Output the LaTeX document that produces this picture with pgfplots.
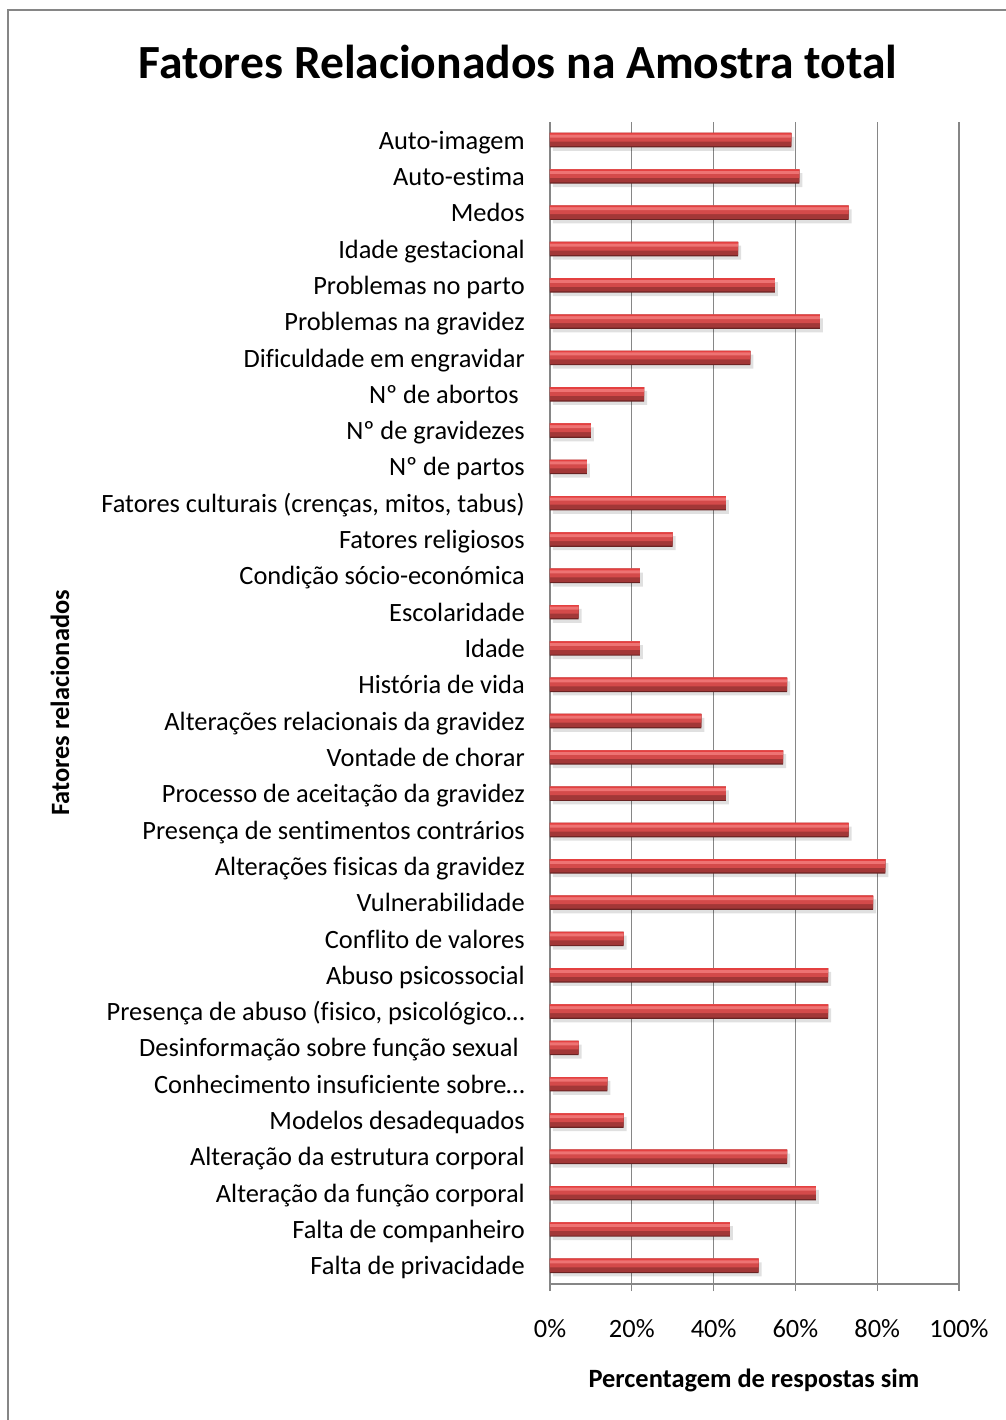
\documentclass[border=0pt]{standalone}
\usepackage{pgfplots}
\pgfplotsset{compat=1.18}
\usepackage{pgfplotstable}
\usepackage{fontspec}
\setmainfont{Carlito}[Ligatures=CommonOff]

\definecolor{framegray}{RGB}{134,134,134}
\definecolor{bardark}{RGB}{105,35,35}
\definecolor{barlow}{RGB}{162,55,55}
\definecolor{barmid}{RGB}{212,74,74}
\definecolor{barhigh}{RGB}{238,115,115}
\definecolor{bartop}{RGB}{228,64,64}

% share of "sim" answers per factor, index 0 = bottom row
\pgfplotstableread{
idx val
0  51
1  44
2  65
3  58
4  18
5  14
6  7
7  68
8  68
9  18
10 79
11 82
12 73
13 43
14 57
15 37
16 58
17 22
18 7
19 22
20 30
21 43
22 9
23 10
24 23
25 49
26 66
27 55
28 46
29 73
30 61
31 59
}\fatores

\begin{document}
\begin{tikzpicture}
\useasboundingbox (0,0) rectangle (503pt,-710pt);
% chart frame
\draw[framegray, line width=1pt] (4pt,-710pt) -- (4pt,-5pt) -- (503pt,-5pt);

\begin{axis}[
  at={(275pt,-642pt)}, anchor=south west,
  scale only axis, width=204.5pt, height=581pt,
  xmin=0, xmax=100, ymin=-0.5, ymax=31.5,
  axis lines*=left,
  axis line style={framegray, line width=0.9pt},
  xtick={0,20,...,100},
  xticklabels={0\%,20\%,40\%,60\%,80\%,100\%},
  xmajorgrids, grid style={framegray, line width=0.7pt},
  tick style={framegray, line width=0.7pt},
  major tick length=3.5pt,
  tick align=outside,
  typeset ticklabels with strut,
  ytick={0,...,31},
  major y tick style={draw=none},
  yticklabels={
    {Falta de privacidade},
    {Falta de companheiro},
    {Alteração da função corporal},
    {Alteração da estrutura corporal},
    {Modelos desadequados},
    {Conhecimento insuficiente sobre…},
    {Desinformação sobre função sexual\kern0.23em},
    {Presença de abuso (fisico, psicológico…},
    {Abuso psicossocial},
    {Conflito de valores},
    {Vulnerabilidade},
    {Alterações fisicas da gravidez},
    {Presença de sentimentos contrários},
    {Processo de aceitação da gravidez},
    {Vontade de chorar},
    {Alterações relacionais da gravidez},
    {História de vida},
    {Idade},
    {Escolaridade},
    {Condição sócio-económica},
    {Fatores religiosos},
    {Fatores culturais (crenças, mitos, tabus)},
    {Nº de partos},
    {Nº de gravidezes},
    {Nº de abortos\kern0.23em},
    {Dificuldade em engravidar},
    {Problemas na gravidez},
    {Problemas no parto},
    {Idade gestacional},
    {Medos},
    {Auto-estima},
    {Auto-imagem}},
  extra y ticks={-0.5,0.5,...,31.5},
  extra y tick labels={},
  extra y tick style={tick style={framegray, line width=0.7pt, draw=framegray}},
  ticklabel style={font=\fontsize{13.2}{15}\selectfont, text=black},
  yticklabel style={xshift=-5.6pt, yshift=-1.5pt},
  xticklabel style={yshift=-9pt},
  clip=false,
]
% soft shadow under each bar
\addplot[xbar, bar width=7pt, bar shift=-1.8pt, xshift=1.5pt, fill=black, fill opacity=0.12, draw=none]
  table[x=val, y=idx]{\fatores};
% layered bevel body
\addplot[xbar, bar width=7.2pt, bar shift=0pt, fill=bardark, draw=none]
  table[x=val, y=idx]{\fatores};
\addplot[xbar, bar width=6.6pt, bar shift=0.3pt, fill=barlow, draw=none]
  table[x=val, y=idx]{\fatores};
\addplot[xbar, bar width=4.3pt, bar shift=1.45pt, fill=barmid, draw=none]
  table[x=val, y=idx]{\fatores};
\addplot[xbar, bar width=2.3pt, bar shift=2.45pt, fill=barhigh, draw=none]
  table[x=val, y=idx]{\fatores};
\addplot[xbar, bar width=0.8pt, bar shift=3.2pt, fill=bartop, draw=none]
  table[x=val, y=idx]{\fatores};
\end{axis}

\node[font=\fontsize{23.8}{28}\selectfont\bfseries] at (259pt,-31pt) {Fatores Relacionados na Amostra total};
\node[font=\fontsize{13.2}{15}\selectfont\bfseries, rotate=90] at (30pt,-351.5pt) {Fatores relacionados};
\node[font=\fontsize{13.2}{15}\selectfont\bfseries] at (377pt,-690pt) {Percentagem de respostas sim};
\end{tikzpicture}
\end{document}
